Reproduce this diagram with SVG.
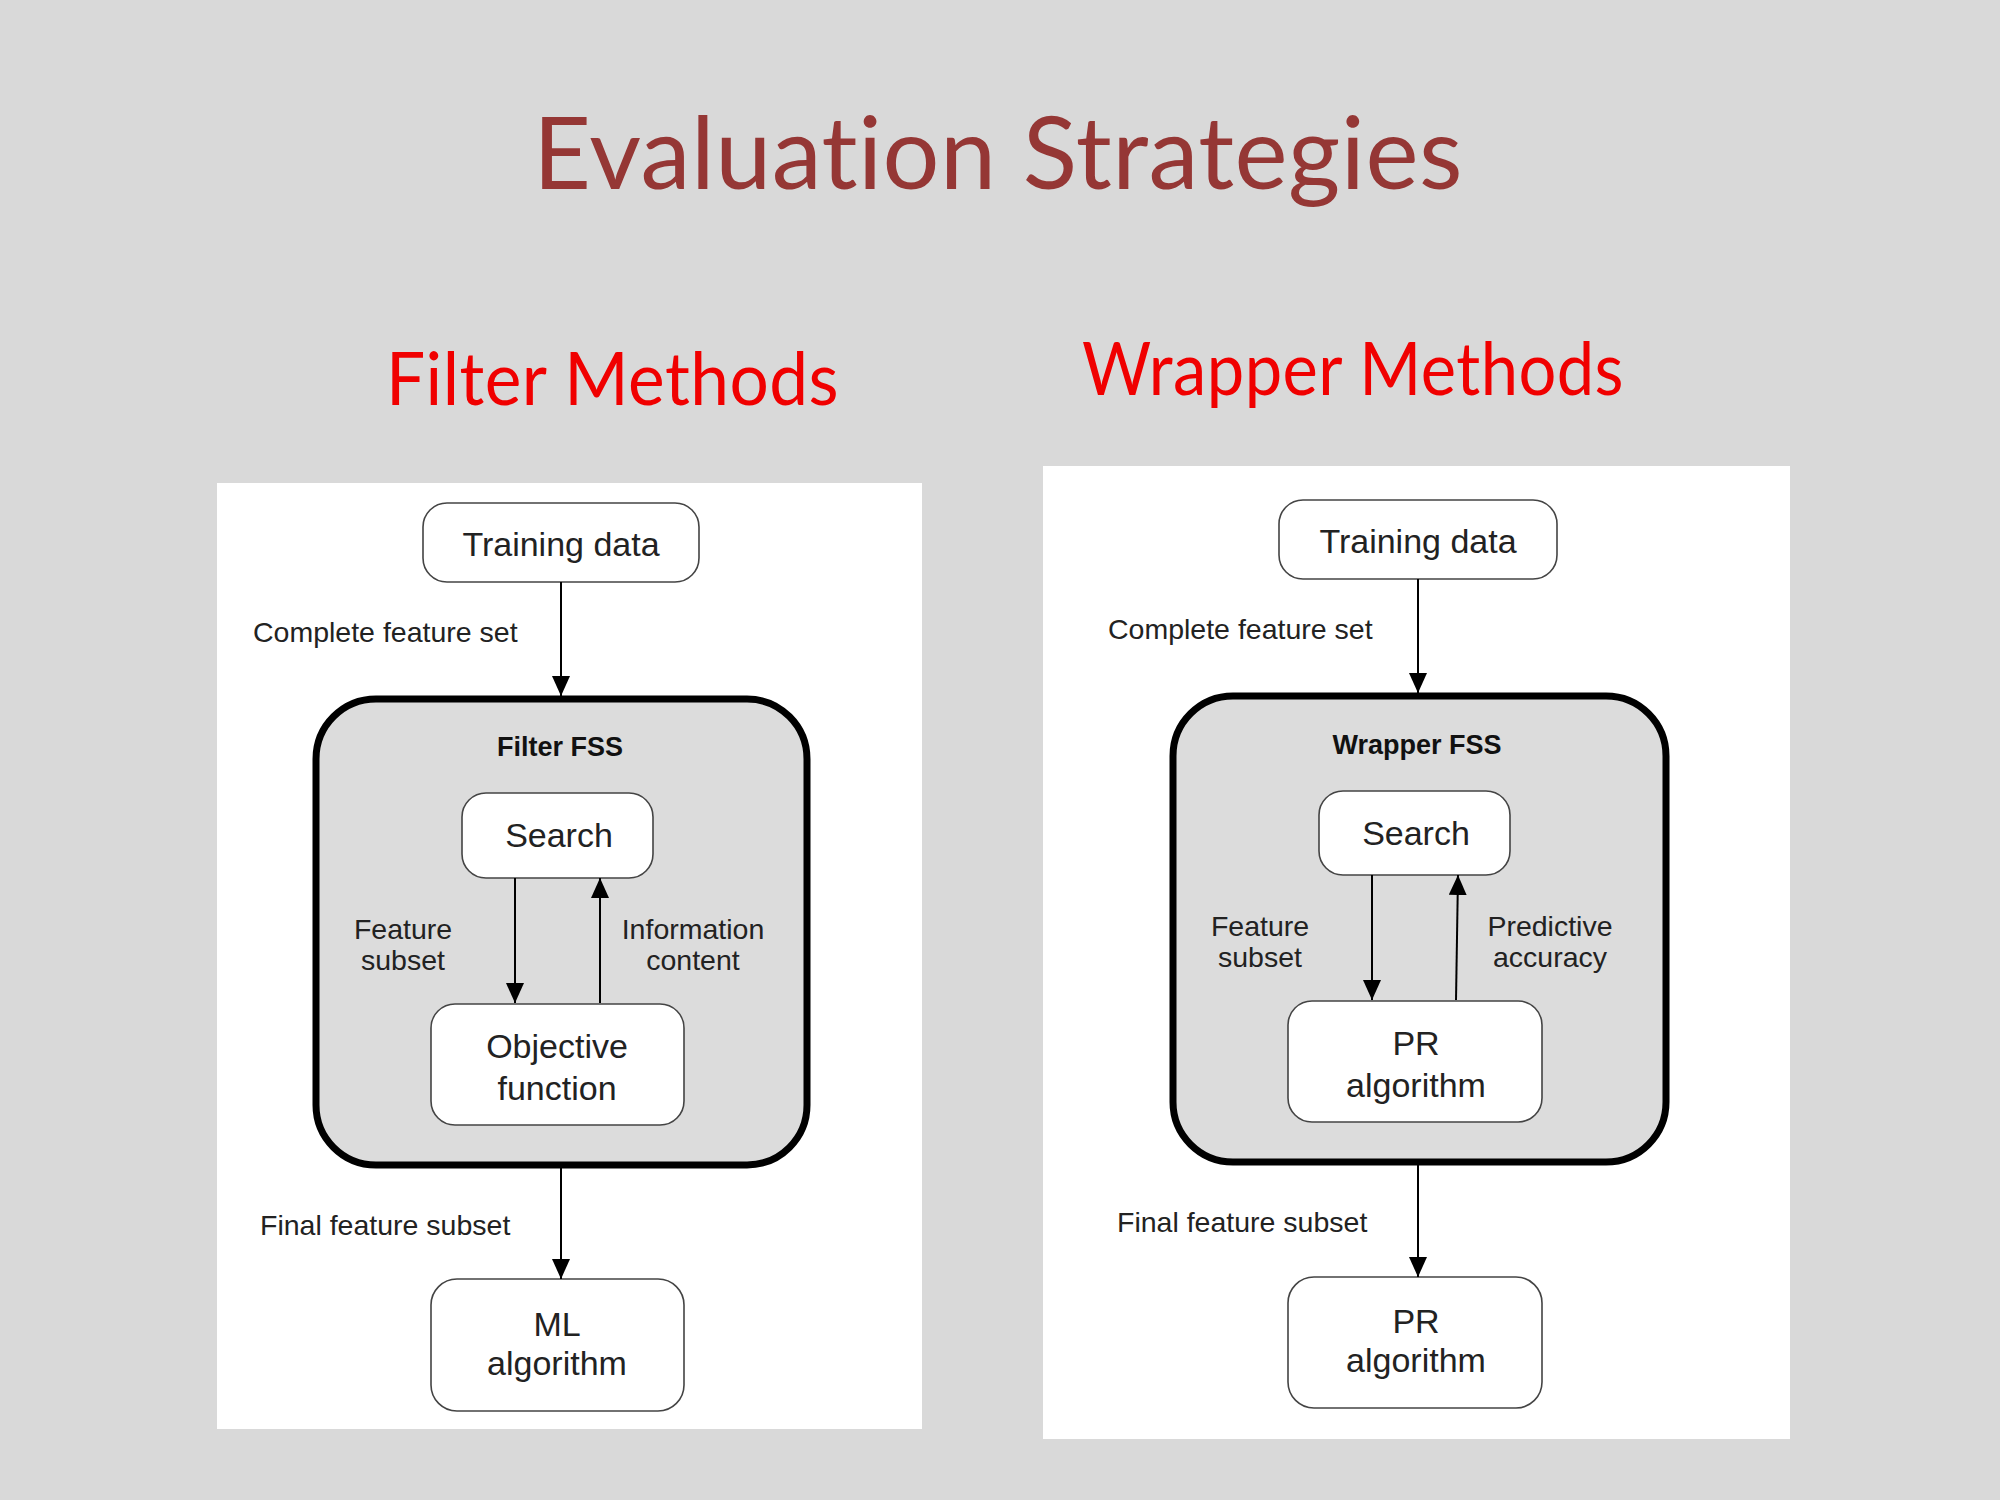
<svg xmlns="http://www.w3.org/2000/svg" width="2000" height="1500" viewBox="0 0 2000 1500">
<defs>
<marker id="ah" markerWidth="20" markerHeight="18" refX="20" refY="9" orient="auto" markerUnits="userSpaceOnUse" viewBox="0 0 20 18">
<path d="M0,0 L20,9 L0,18 Z" fill="#000"/>
</marker>
<style>
.title{font-family:Lato,"Open Sans",sans-serif;fill:#953735;font-size:100px;font-variant-ligatures:none;font-feature-settings:"liga" 0,"dlig" 0,"clig" 0;letter-spacing:0.5px}
.sub{font-family:Lato,"Open Sans",sans-serif;fill:#f00000;font-size:74px;font-variant-ligatures:none;font-feature-settings:"liga" 0;letter-spacing:0.5px}
.panel{fill:#ffffff}
.node{fill:#fff;stroke:#444;stroke-width:1.6}
.big{fill:#dcdcdc;stroke:#000;stroke-width:7}
.nt{font-family:"Liberation Sans",Arial,sans-serif;font-size:34px;fill:#222;text-anchor:middle}
.lt{font-family:"Liberation Sans",Arial,sans-serif;font-size:28.5px;fill:#222}
.bt{font-family:"Liberation Sans",Arial,sans-serif;font-size:27px;font-weight:bold;fill:#111;text-anchor:middle}
.edge{stroke:#000;stroke-width:2;fill:none;marker-end:url(#ah)}
</style>
</defs>
<rect x="0" y="0" width="2000" height="1500" fill="#d9d9d9"/>
<text class="title" x="998" y="189" text-anchor="middle" textLength="930" lengthAdjust="spacingAndGlyphs">Evaluation Strategies</text>
<text class="sub" x="386" y="405" textLength="453" lengthAdjust="spacingAndGlyphs">Filter Methods</text>
<text class="sub" x="1082" y="395" textLength="542" lengthAdjust="spacingAndGlyphs">Wrapper Methods</text>

<rect class="panel" x="217" y="483" width="705" height="946"/>
<rect class="panel" x="1043" y="466" width="747" height="973"/>

<!-- Left: Filter -->
<g id="filter-fss">
<rect class="big" x="316" y="699" width="491" height="466" rx="60" ry="60"/>
<text class="bt" x="560" y="756">Filter FSS</text>
</g>
<g id="f-training">
<rect class="node" x="423" y="503" width="276" height="79" rx="24"/>
<text class="nt" x="561" y="556">Training data</text>
</g>
<g id="f-search">
<rect class="node" x="462" y="793" width="191" height="85" rx="24"/>
<text class="nt" x="559" y="847">Search</text>
</g>
<g id="f-objective">
<rect class="node" x="431" y="1004" width="253" height="121" rx="24"/>
<text class="nt" x="557" y="1058">Objective</text>
<text class="nt" x="557" y="1100">function</text>
</g>
<g id="f-ml">
<rect class="node" x="431" y="1279" width="253" height="132" rx="26"/>
<text class="nt" x="557" y="1336">ML</text>
<text class="nt" x="557" y="1375">algorithm</text>
</g>

<!-- Right: Wrapper -->
<g id="wrapper-fss">
<rect class="big" x="1173" y="696" width="493" height="466" rx="60" ry="60"/>
<text class="bt" x="1417" y="754">Wrapper FSS</text>
</g>
<g id="w-training">
<rect class="node" x="1279" y="500" width="278" height="79" rx="24"/>
<text class="nt" x="1418" y="553">Training data</text>
</g>
<g id="w-search">
<rect class="node" x="1319" y="791" width="191" height="84" rx="24"/>
<text class="nt" x="1416" y="845">Search</text>
</g>
<g id="w-pr1">
<rect class="node" x="1288" y="1001" width="254" height="121" rx="24"/>
<text class="nt" x="1416" y="1055">PR</text>
<text class="nt" x="1416" y="1097">algorithm</text>
</g>
<g id="w-pr2">
<rect class="node" x="1288" y="1277" width="254" height="131" rx="26"/>
<text class="nt" x="1416" y="1333">PR</text>
<text class="nt" x="1416" y="1372">algorithm</text>
</g>

<g id="connectors">
<line class="edge" x1="561" y1="582" x2="561" y2="696"/>
<line class="edge" x1="515" y1="878" x2="515" y2="1003"/>
<line class="edge" x1="600" y1="1003" x2="600" y2="878"/>
<line class="edge" x1="561" y1="1168" x2="561" y2="1279"/>
<line class="edge" x1="1418" y1="579" x2="1418" y2="693"/>
<line class="edge" x1="1372" y1="875" x2="1372" y2="1000"/>
<line class="edge" x1="1456" y1="1000" x2="1458" y2="875"/>
<line class="edge" x1="1418" y1="1165" x2="1418" y2="1277"/>
</g>

<g id="labels">
<text class="lt" x="253" y="642">Complete feature set</text>
<text class="lt" x="403" y="939" text-anchor="middle">Feature</text>
<text class="lt" x="403" y="970" text-anchor="middle">subset</text>
<text class="lt" x="693" y="939" text-anchor="middle">Information</text>
<text class="lt" x="693" y="970" text-anchor="middle">content</text>
<text class="lt" x="260" y="1235">Final feature subset</text>
<text class="lt" x="1108" y="639">Complete feature set</text>
<text class="lt" x="1260" y="936" text-anchor="middle">Feature</text>
<text class="lt" x="1260" y="967" text-anchor="middle">subset</text>
<text class="lt" x="1550" y="936" text-anchor="middle">Predictive</text>
<text class="lt" x="1550" y="967" text-anchor="middle">accuracy</text>
<text class="lt" x="1117" y="1232">Final feature subset</text>
</g>
</svg>
